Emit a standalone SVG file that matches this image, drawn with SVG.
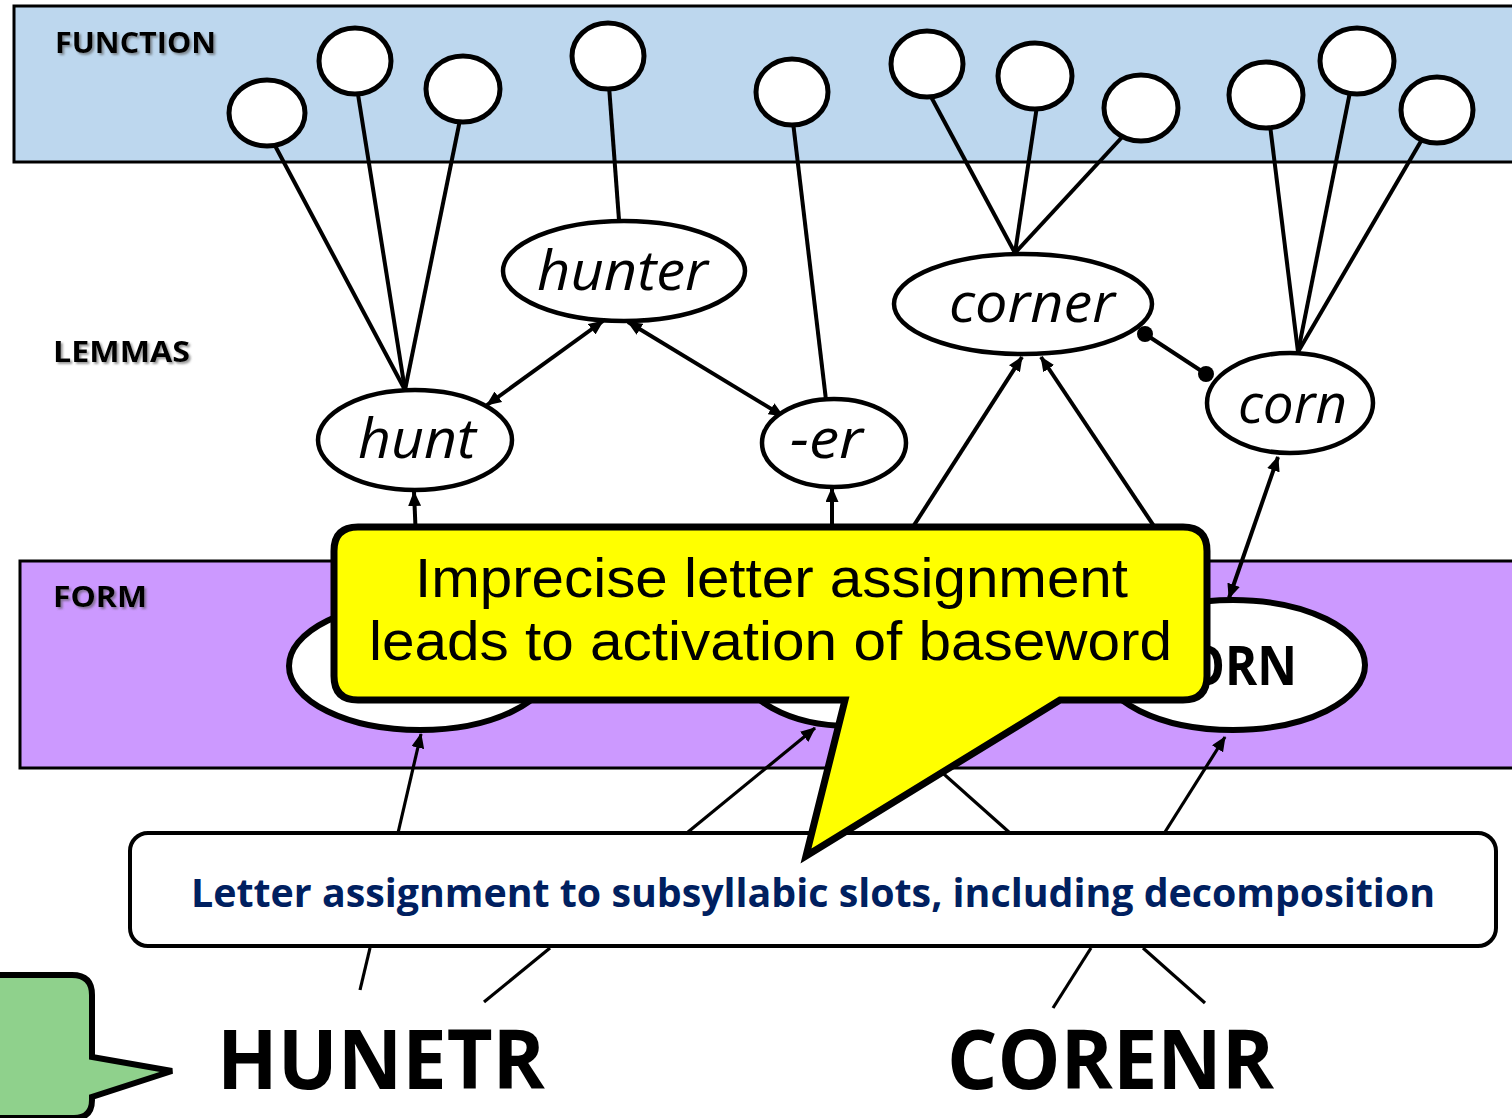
<svg xmlns="http://www.w3.org/2000/svg" width="1512" height="1118" viewBox="0 0 1512 1118">
  <defs>
    <marker id="head" viewBox="0 0 15 13" refX="14" refY="6.5" markerWidth="15" markerHeight="13" markerUnits="userSpaceOnUse" orient="auto-start-reverse">
      <path d="M0,0 L15,6.5 L0,13 z" fill="#000"/>
    </marker>
    <filter id="shade" x="-10%" y="-30%" width="130%" height="180%">
      <feDropShadow dx="2" dy="2" stdDeviation="1.2" flood-color="#555" flood-opacity="0.6"/>
    </filter>
  </defs>
  <style>
    .band { stroke: #000; stroke-width: 3; }
    .fn { fill: #fff; stroke: #000; stroke-width: 5; }
    .lemma { fill: #fff; stroke: #000; stroke-width: 4.5; }
    .form { fill: #fff; stroke: #000; stroke-width: 6; }
    .link { stroke: #000; stroke-width: 4; fill: none; }
    .thin { stroke: #000; stroke-width: 3.2; fill: none; }
    .arrow { marker-end: url(#head); }
    .both { marker-start: url(#head); marker-end: url(#head); }
    .layer { font-family: "Open Sans", "Liberation Sans", sans-serif; font-weight: 700; font-size: 29px; fill: #000; }
    .lemtxt { font-family: "Open Sans", "Liberation Sans", sans-serif; font-style: italic; font-size: 55px; fill: #000; }
    .big { font-family: "Open Sans", "Liberation Sans", sans-serif; font-weight: 700; font-size: 82px; fill: #000; }
    .note { font-family: "Liberation Sans", "Open Sans", sans-serif; font-size: 55px; fill: #000; }
  </style>

  <!-- layer bands -->
  <rect class="band" x="14" y="6" width="1510" height="156" fill="#BDD7EE"/>
  <rect class="band" x="20" y="561" width="1510" height="207" fill="#CC99FF"/>

  <!-- connectors -->
  <g id="connectors">
    <!-- function to lemma -->
    <line class="link" x1="272" y1="140" x2="405" y2="390"/>
    <line class="link" x1="357" y1="88" x2="405" y2="390"/>
    <line class="link" x1="461" y1="115" x2="405" y2="390"/>
    <line class="link" x1="609" y1="86" x2="619" y2="220"/>
    <line class="link" x1="793" y1="122" x2="826" y2="400"/>
    <line class="link" x1="929" y1="93" x2="1015" y2="253"/>
    <line class="link" x1="1037" y1="106" x2="1015" y2="253"/>
    <line class="link" x1="1125" y1="134" x2="1015" y2="253"/>
    <line class="link" x1="1270" y1="125" x2="1298" y2="352"/>
    <line class="link" x1="1350" y1="92" x2="1298" y2="352"/>
    <line class="link" x1="1424" y1="136" x2="1298" y2="352"/>
    <!-- lemma to lemma -->
    <line class="link both" x1="487" y1="405" x2="603" y2="321"/>
    <line class="link both" x1="628" y1="322" x2="783" y2="416"/>
    <line class="link" x1="1145" y1="334" x2="1206" y2="374"/>
    <circle cx="1145" cy="334" r="8" fill="#000"/>
    <circle cx="1206" cy="374" r="8" fill="#000"/>
    <!-- form to lemma -->
    <line class="link arrow" x1="419" y1="610" x2="414" y2="492"/>
    <line class="link arrow" x1="832" y1="610" x2="832" y2="488"/>
    <line class="link arrow" x1="866" y1="600" x2="1022" y2="357"/>
    <line class="link arrow" x1="1200" y1="595" x2="1041" y2="357"/>
    <line class="link both" x1="1278" y1="457" x2="1229" y2="598"/>
    <!-- slots to form -->
    <line class="thin arrow" x1="398" y1="833" x2="421" y2="734"/>
    <line class="thin arrow" x1="688" y1="832" x2="815" y2="728"/>
    <line class="thin" x1="1010" y1="833" x2="900" y2="735"/>
    <line class="thin arrow" x1="1165" y1="832" x2="1225" y2="737"/>
    <!-- letters to slots -->
    <line class="thin" x1="360" y1="990" x2="370" y2="948"/>
    <line class="thin" x1="484" y1="1002" x2="550" y2="948"/>
    <line class="thin" x1="1053" y1="1008" x2="1091" y2="948"/>
    <line class="thin" x1="1205" y1="1003" x2="1143" y2="948"/>
  </g>

  <!-- function nodes -->
  <g id="function-nodes">
    <ellipse id="fn1" class="fn" cx="267" cy="113" rx="38" ry="33"/>
    <ellipse id="fn2" class="fn" cx="355" cy="61" rx="36" ry="33"/>
    <ellipse id="fn3" class="fn" cx="463" cy="89" rx="37" ry="33"/>
    <ellipse id="fn4" class="fn" cx="608" cy="56" rx="36" ry="33"/>
    <ellipse id="fn5" class="fn" cx="792" cy="92" rx="36" ry="33"/>
    <ellipse id="fn6" class="fn" cx="927" cy="64" rx="36" ry="33"/>
    <ellipse id="fn7" class="fn" cx="1035" cy="76" rx="37" ry="33"/>
    <ellipse id="fn8" class="fn" cx="1141" cy="108" rx="37" ry="33"/>
    <ellipse id="fn9" class="fn" cx="1266" cy="95" rx="37" ry="33"/>
    <ellipse id="fn10" class="fn" cx="1357" cy="61" rx="37" ry="33"/>
    <ellipse id="fn11" class="fn" cx="1437" cy="110" rx="36" ry="33"/>
  </g>

  <!-- lemma nodes -->
  <g id="lemma-hunter">
    <ellipse class="lemma" cx="624" cy="271" rx="121" ry="50"/>
    <text class="lemtxt" x="537" y="290" textLength="171" lengthAdjust="spacingAndGlyphs">hunter</text>
  </g>
  <g id="lemma-hunt">
    <ellipse class="lemma" cx="415" cy="440" rx="97" ry="50"/>
    <text class="lemtxt" x="358" y="458" textLength="118" lengthAdjust="spacingAndGlyphs">hunt</text>
  </g>
  <g id="lemma-er">
    <ellipse class="lemma" cx="834" cy="443" rx="72" ry="44"/>
    <text class="lemtxt" x="790" y="458" textLength="73" lengthAdjust="spacingAndGlyphs">-er</text>
  </g>
  <g id="lemma-corner">
    <ellipse class="lemma" cx="1023" cy="304" rx="129" ry="50"/>
    <text class="lemtxt" x="949" y="322" textLength="166" lengthAdjust="spacingAndGlyphs">corner</text>
  </g>
  <g id="lemma-corn">
    <ellipse class="lemma" cx="1290" cy="403" rx="83" ry="50"/>
    <text class="lemtxt" x="1238" y="423" textLength="109" lengthAdjust="spacingAndGlyphs">corn</text>
  </g>

  <!-- form nodes -->
  <g id="form-hunt">
    <ellipse class="form" cx="420" cy="666" rx="131" ry="64"/>
  </g>
  <g id="form-er">
    <ellipse class="form" cx="850" cy="665" rx="110" ry="61"/>
  </g>
  <g id="form-corn">
    <ellipse class="form" cx="1233" cy="665" rx="132" ry="65"/>
    <text x="1186" y="685" font-family="Open Sans, Liberation Sans, sans-serif" font-weight="700" font-size="53" textLength="111" lengthAdjust="spacingAndGlyphs">ORN</text>
  </g>

  <!-- slot assignment stage -->
  <g id="slot-assignment">
    <rect x="130" y="833" width="1366" height="113" rx="18" fill="#fff" stroke="#000" stroke-width="4"/>
    <text x="191" y="907" font-family="Open Sans, Liberation Sans, sans-serif" font-weight="700" font-size="40" fill="#002060" textLength="1244" lengthAdjust="spacingAndGlyphs">Letter assignment to subsyllabic slots, including decomposition</text>
  </g>

  <!-- layer labels -->
  <text class="layer" x="55" y="53" textLength="161" lengthAdjust="spacingAndGlyphs" filter="url(#shade)">FUNCTION</text>
  <text class="layer" x="53" y="362" textLength="137" lengthAdjust="spacingAndGlyphs" filter="url(#shade)">LEMMAS</text>
  <text class="layer" x="53" y="607" textLength="94" lengthAdjust="spacingAndGlyphs" filter="url(#shade)">FORM</text>

  <!-- letter strings -->
  <g id="input-hunetr">
    <text class="big" x="217" y="1089" textLength="328" lengthAdjust="spacingAndGlyphs">HUNETR</text>
  </g>
  <g id="input-corenr">
    <text class="big" x="947" y="1089" textLength="327" lengthAdjust="spacingAndGlyphs">CORENR</text>
  </g>

  <!-- yellow speech bubble -->
  <g id="callout-baseword">
    <path d="M358,527 H1183 Q1207,527 1207,551 V676 Q1207,700 1183,700 H1060 L806,856 L845,700 H358 Q334,700 334,676 V551 Q334,527 358,527 Z" fill="#FFFF00" stroke="#000" stroke-width="7" stroke-linejoin="miter"/>
    <text class="note" x="415" y="597" textLength="713" lengthAdjust="spacingAndGlyphs">Imprecise letter assignment</text>
    <text class="note" x="369" y="660" textLength="803" lengthAdjust="spacingAndGlyphs">leads to activation of baseword</text>
  </g>

  <!-- green speech bubble -->
  <g id="callout-green">
    <path d="M-20,975 H72 Q92,975 92,995 V1057 L172,1071 L92,1097 V1100 Q92,1118 74,1118 H-20 Z" fill="#8FD18C" stroke="#000" stroke-width="6"/>
  </g>
</svg>
